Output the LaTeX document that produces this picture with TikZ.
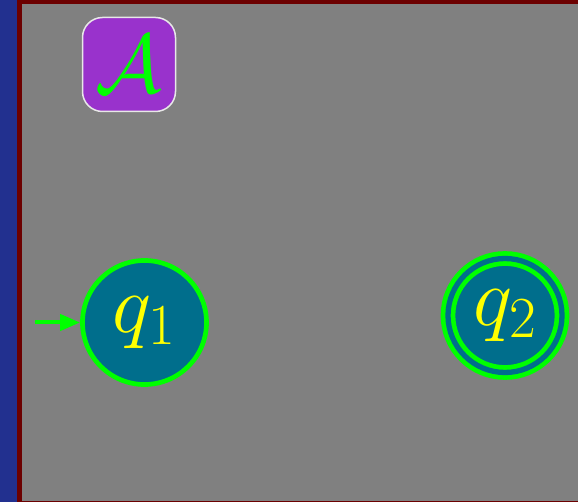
\RequirePackage{fix-cm}
\documentclass[tikz,border=0pt]{standalone}
\usetikzlibrary{arrows.meta}
\definecolor{stripblue}{RGB}{34,48,143}
\definecolor{frame}{RGB}{108,0,0}
\definecolor{canvas}{RGB}{128,128,128}
\definecolor{statefill}{RGB}{0,110,140}
\definecolor{brightgreen}{RGB}{0,255,0}
\definecolor{labelyellow}{RGB}{255,255,0}
\definecolor{badgepurple}{RGB}{153,50,204}
\definecolor{badgeedge}{RGB}{232,232,232}
\tikzset{
  automaton/.style={circle, fill=statefill, draw=brightgreen, line width=4.7pt,
    minimum size=124pt, inner sep=0pt, text=labelyellow,
    font=\fontsize{83}{96}\selectfont},
  accepting/.style={automaton, double=statefill, double distance=5.3pt,
    minimum size=114pt},
  badge/.style={rectangle, rounded corners=20pt, fill=badgepurple, draw=badgeedge,
    line width=1.5pt, minimum width=93pt, minimum height=94pt, inner sep=0pt,
    text=brightgreen, font=\fontsize{83}{96}\selectfont},
  startarrow/.style={draw=brightgreen, line width=4pt,
    -{Triangle[length=20pt,width=16pt]}}
}
\begin{document}
\begin{tikzpicture}[x=1pt,y=-1pt]
  \useasboundingbox (0,0) rectangle (578,502);
  % side strip and framed canvas
  \fill[stripblue] (0,0) rectangle (18,502);
  \fill[frame] (17.3,0) rectangle (578,502);
  \fill[canvas] (22,4) rectangle (578,501);
  % automaton label
  \node[badge] (name) at (129,64.5) {$\mathcal{A}$};
  % states
  \node[automaton] (q1) at (144.5,322.5) {$q_1$};
  \node[accepting] (q2) at (505,315.5) {$q_2$};
  % initial arrow
  \coordinate (init) at (35,322.5);
  \draw[startarrow] (init) -- (q1.west);
\end{tikzpicture}
\end{document}
